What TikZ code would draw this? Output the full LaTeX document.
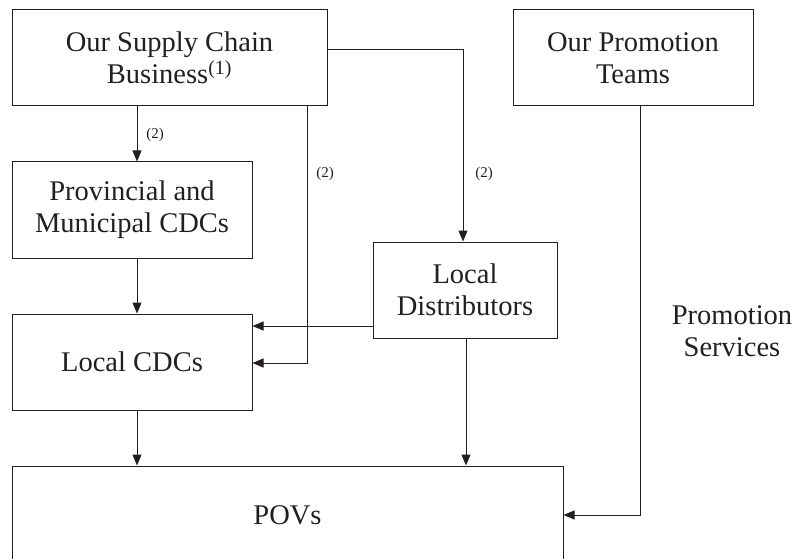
\documentclass[tikz,border=0pt]{standalone}
\usepackage{fontspec}
\setmainfont{Liberation Serif}
\usetikzlibrary{arrows.meta}
\definecolor{ink}{HTML}{231F20}
\begin{document}
\begin{tikzpicture}[x=1pt,y=-1pt,
  box/.style={draw=ink, line width=1pt, inner sep=0pt, align=center,
    font=\fontsize{28.5}{32}\selectfont, text=ink},
  lbl/.style={font=\fontsize{28.5}{32}\selectfont, text=ink, align=center},
  note/.style={font=\fontsize{15}{17}\selectfont, text=ink},
  flow/.style={draw=ink, line width=1pt, -{Triangle[length=11pt,width=9pt]}}]
\clip (0,0) rectangle (793,559);
\useasboundingbox (0,0) rectangle (793,559);

% boxes
\node[box, minimum width=315pt, minimum height=96pt] (supply) at (169.5,58)
  {Our Supply Chain\\Business\textsuperscript{(1)}};
\node[box, minimum width=240pt, minimum height=96pt] (promo) at (633,58)
  {Our Promotion\\Teams};
\node[box, minimum width=240pt, minimum height=96pt] (prov) at (132,210)
  {Provincial and\\Municipal CDCs};
\node[box, minimum width=184pt, minimum height=96pt] (dist) at (465,290)
  {Local\\Distributors};
\node[box, minimum width=240pt, minimum height=96pt] (local) at (132,362)
  {Local CDCs};
\node[box, minimum width=551pt, minimum height=130pt] (povs) at (287.5,531)
  {};
\node[lbl] (povstext) at (287.5,515) {POVs};
\node[lbl] (svc) at (732,331) {Promotion\\Services};

% routing points
\coordinate (ca) at (137,0);
\coordinate (cb) at (307,363);
\coordinate (cc) at (463,50);
\coordinate (cd) at (0,326);
\coordinate (ce) at (640,515);
\coordinate (cf) at (466,0);

% connectors
\draw[flow] (supply.south -| ca) -- (prov.north -| ca);
\draw[flow] (prov.south -| ca) -- (local.north -| ca);
\draw[flow] (local.south -| ca) -- (povs.north -| ca);
\draw[flow] (supply.south -| cb) -- (cb) -- (local.east |- cb);
\draw[flow] (supply.east |- cc) -- (cc) -- (dist.north -| cc);
\draw[flow] (dist.west |- cd) -- (local.east |- cd);
\draw[flow] (dist.south -| cf) -- (povs.north -| cf);
\draw[flow] (promo.south -| ce) -- (ce) -- (povs.east |- ce);

% labels
\node[note] (n1) at (155,135) {(2)};
\node[note] (n2) at (325,174) {(2)};
\node[note] (n3) at (484,174) {(2)};
\end{tikzpicture}
\end{document}
